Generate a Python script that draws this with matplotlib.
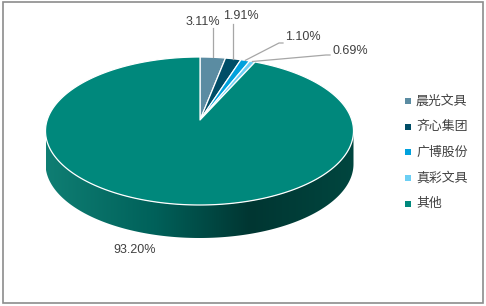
import numpy as np
import matplotlib.pyplot as plt
from matplotlib.patches import Polygon, Rectangle
from matplotlib.colors import LinearSegmentedColormap

names = ['晨光文具', '齐心集团', '广博股份', '真彩文具', '其他']
shares = [3.11, 1.91, 1.10, 0.69, 93.20]
colors = ['#5b8ca2', '#004d66', '#00a1dd', '#6ccff4', '#00887c']

W, H = 486, 306
fig = plt.figure(figsize=(4.86, 3.06), dpi=100)
ax = fig.add_axes([0, 0, 1, 1])

# pie geometry in pixel units (y grows downward)
cx, cy, rx, ry = 199.5, 131, 154, 74
tipx, tipy = 200, 120   # perspective: wedge tip sits above ellipse centre
depth = 33


def rim(phi):
    # point where the ray from the tip at pie-angle phi meets the top ellipse
    dx, dy = rx * np.sin(phi), -ry * np.cos(phi)
    ox, oy = tipx - cx, tipy - cy
    a = (dx / rx) ** 2 + (dy / ry) ** 2
    b = 2 * (ox * dx / rx ** 2 + oy * dy / ry ** 2)
    c = (ox / rx) ** 2 + (oy / ry) ** 2 - 1
    t = (-b + np.sqrt(b * b - 4 * a * c)) / (2 * a)
    return tipx + t * dx, tipy + t * dy


# side wall with gradient
t = np.linspace(0, np.pi, 200)
top_x, top_y = cx + rx * np.cos(t), cy + ry * np.sin(t)
side = np.vstack([np.column_stack([top_x, top_y]),
                  np.column_stack([top_x[::-1], top_y[::-1] + depth])])
side_patch = Polygon(side, closed=True, facecolor='none', edgecolor='none')
ax.add_patch(side_patch)
cmap = LinearSegmentedColormap.from_list(
    'side', [(0, '#0f7e73'), (0.35, '#00615a'), (0.66, '#003632'), (1, '#00463f')])
grad = np.linspace(0, 1, 256)[None, :]
im = ax.imshow(grad, cmap=cmap, aspect='auto',
               extent=(cx - rx, cx + rx, cy + ry + depth + 2, cy - 2))
im.set_clip_path(side_patch)

# top wedges
fracs = np.array(shares) / sum(shares)
bounds = np.concatenate([[0], np.cumsum(fracs)]) * 2 * np.pi
anchors = []
for i, col in enumerate(colors):
    phis = np.linspace(bounds[i], bounds[i + 1], max(3, int(fracs[i] * 400)))
    pts = [(tipx, tipy)] + [rim(p) for p in phis]
    ax.add_patch(Polygon(pts, closed=True, facecolor=col, edgecolor='white',
                         linewidth=0.9, joinstyle='round'))
    anchors.append(rim((bounds[i] + bounds[i + 1]) / 2))

# data labels with leader lines
label_pos = [(203, 22, 'center'), (241, 16, 'center'), (285, 37, 'left'),
             (332, 51, 'left'), (135, 250, 'center')]
leaders = [[(None, 28)], [(None, 24)], [(279, 43), (283, 43)],
           [(326, 55), (330, 55)], []]
for i, s in enumerate(shares):
    x, y, ha = label_pos[i]
    ax.text(x, y, f'{s:.2f}%', ha=ha, va='center', fontsize=9,
            family='Liberation Sans', color='#404040')
    if leaders[i]:
        ax0, ay0 = anchors[i]
        pts = [(ax0, ay0)] + [(ax0 if px is None else px, py) for px, py in leaders[i]]
        xs, ys = zip(*pts)
        ax.plot(xs, ys, color='#a6a6a6', lw=0.9)

# legend
for i, (n, col) in enumerate(zip(names, colors)):
    ly = 101 + i * 25.7
    ax.scatter([408], [ly], marker='s', s=14, color=col, linewidths=0)
    ax.text(416, ly, n, ha='left', va='center', fontsize=9.3,
            family=['Noto Sans CJK SC', 'DejaVu Sans'], color='#404040')

ax.add_patch(Rectangle((2.5, 2), 480, 300.5, fill=False, edgecolor='#8c8c8c', lw=1.2))

ax.set_xlim(0, W)
ax.set_ylim(H, 0)
ax.axis('off')
fig.savefig('out.png', dpi=100)
